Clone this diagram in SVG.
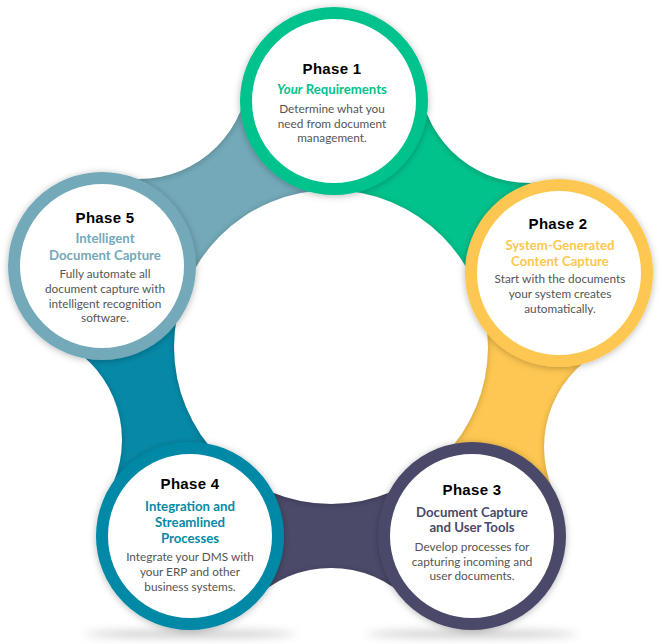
<svg xmlns="http://www.w3.org/2000/svg" width="662" height="644" viewBox="0 0 662 644">
<defs>
  <filter id="sh" x="-20%" y="-20%" width="140%" height="140%">
    <feDropShadow dx="0" dy="1" stdDeviation="3.5" flood-color="#000" flood-opacity="0.28"/>
  </filter>
  <filter id="blur" x="-10%" y="-10%" width="120%" height="120%">
    <feGaussianBlur stdDeviation="3"/>
  </filter>
  <filter id="floor" x="-20%" y="-200%" width="140%" height="500%">
    <feGaussianBlur stdDeviation="4"/>
  </filter>
  <mask id="bm" maskUnits="userSpaceOnUse" x="0" y="0" width="662" height="644">
    <g fill="#fff">
      <polygon points="331,347 334,101 529,73 559,273"/>
      <polygon points="331,347 559,273 654,447 472,536"/>
      <polygon points="331,347 472,536 331,678 190,536"/>
      <polygon points="331,347 190,536 12,440 102,266"/>
      <polygon points="331,347 102,266 139,69 334,101"/>
    </g>
    <g fill="#000">
      <circle cx="529" cy="73" r="110"/>
      <circle cx="654" cy="447" r="110"/>
      <circle cx="331" cy="678" r="110"/>
      <circle cx="12" cy="440" r="110"/>
      <circle cx="139" cy="69" r="110"/>
      <circle cx="331" cy="347" r="157"/>
    </g>
  </mask>
  <style>
    .ring { fill: #fff; stroke-width: 12; filter: url(#sh); }
    .title { font-family: "Liberation Sans", Arial, sans-serif; font-weight: 700; font-size: 15px; letter-spacing: 0.3px; fill: #000; text-anchor: middle; }
    .sub { font-family: Lato, "Open Sans", sans-serif; font-weight: 700; font-size: 13.2px; text-anchor: middle; }
    .body { font-family: Lato, "Open Sans", sans-serif; font-size: 11.8px; fill: #555; text-anchor: middle; }
  </style>
</defs>
<rect width="662" height="644" fill="#fff"/>

<!-- floor shadows -->
<ellipse cx="190" cy="634" rx="105" ry="3.5" fill="#c8c8c8" filter="url(#floor)"/>
<ellipse cx="472" cy="634" rx="105" ry="3.5" fill="#c8c8c8" filter="url(#floor)"/>

<g id="connectors">
  <g mask="url(#bm)">
    <polygon points="331,347 334,101 529,73 559,273" fill="#02c28c"/>
    <polygon points="331,347 559,273 654,447 472,536" fill="#fec751"/>
    <polygon points="331,347 472,536 331,678 190,536" fill="#4b4a69"/>
    <polygon points="331,347 190,536 12,440 102,266" fill="#0689a7"/>
    <polygon points="331,347 102,266 139,69 334,101" fill="#73a9b8"/>
  </g>
  <g mask="url(#bm)">
    <g filter="url(#blur)" fill="#000" opacity="0.22">
      <circle cx="529" cy="74" r="110"/>
      <circle cx="654" cy="448" r="110"/>
      <circle cx="331" cy="679" r="110"/>
      <circle cx="12" cy="441" r="110"/>
      <circle cx="139" cy="70" r="110"/>
      <circle cx="331" cy="348" r="157"/>
    </g>
  </g>
</g>

<g id="phase1">
  <circle class="ring" cx="334" cy="101" r="88" stroke="#02c28c"/>
  <text class="title" x="332" y="74">Phase 1</text>
  <text class="sub" x="332" y="94" fill="#02c28c"><tspan font-style="italic">Your</tspan> Requirements</text>
  <text class="body" x="332" y="112.5">Determine what you</text>
  <text class="body" x="332" y="127.5">need from document</text>
  <text class="body" x="332" y="142">management.</text>
</g>

<g id="phase2">
  <circle class="ring" cx="559" cy="273" r="88" stroke="#fec751"/>
  <text class="title" x="558" y="228.5">Phase 2</text>
  <text class="sub" x="560" y="250" fill="#fec751">System-Generated</text>
  <text class="sub" x="560" y="265.5" fill="#fec751">Content Capture</text>
  <text class="body" x="560" y="283">Start with the documents</text>
  <text class="body" x="560" y="298">your system creates</text>
  <text class="body" x="560" y="313">automatically.</text>
</g>

<g id="phase3">
  <circle class="ring" cx="472" cy="536" r="88" stroke="#4b4a69"/>
  <text class="title" x="472" y="495">Phase 3</text>
  <text class="sub" x="472" y="516.5" fill="#4b4a69">Document Capture</text>
  <text class="sub" x="472" y="532" fill="#4b4a69">and User Tools</text>
  <text class="body" x="472" y="551">Develop processes for</text>
  <text class="body" x="472" y="566">capturing incoming and</text>
  <text class="body" x="472" y="580">user documents.</text>
</g>

<g id="phase4">
  <circle class="ring" cx="190" cy="536" r="88" stroke="#0689a7"/>
  <text class="title" x="190" y="488.5">Phase 4</text>
  <text class="sub" x="190" y="511" fill="#0689a7">Integration and</text>
  <text class="sub" x="190" y="526.5" fill="#0689a7">Streamlined</text>
  <text class="sub" x="190" y="542.5" fill="#0689a7">Processes</text>
  <text class="body" x="190" y="561">Integrate your DMS with</text>
  <text class="body" x="190" y="576">your ERP and other</text>
  <text class="body" x="190" y="590.5">business systems.</text>
</g>

<g id="phase5">
  <circle class="ring" cx="102" cy="266" r="88" stroke="#73a9b8"/>
  <text class="title" x="105" y="222.5">Phase 5</text>
  <text class="sub" x="105" y="243" fill="#73a9b8">Intelligent</text>
  <text class="sub" x="105" y="260" fill="#73a9b8">Document Capture</text>
  <text class="body" x="105" y="278">Fully automate all</text>
  <text class="body" x="105" y="292.5">document capture with</text>
  <text class="body" x="105" y="307.5">intelligent recognition</text>
  <text class="body" x="105" y="322">software.</text>
</g>
</svg>
